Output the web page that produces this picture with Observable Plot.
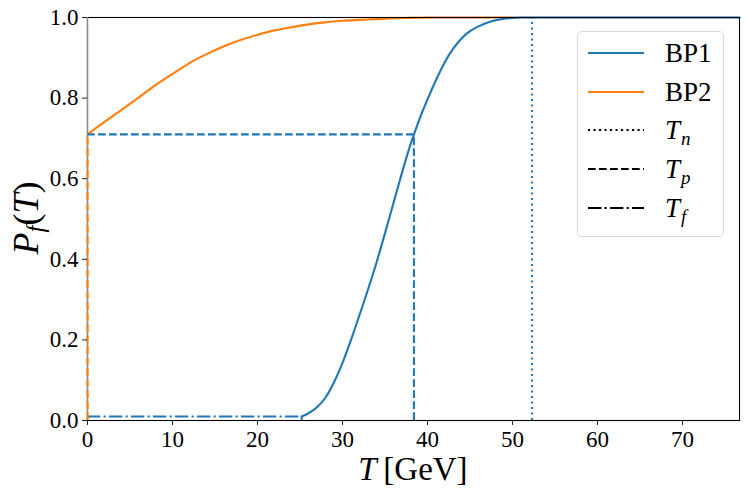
<!DOCTYPE html>
<html><head><meta charset="utf-8">
<script src="https://cdn.jsdelivr.net/npm/d3@7"></script>
<script src="https://cdn.jsdelivr.net/npm/@observablehq/plot@0.6"></script>
<style>
body{margin:0;background:#fff;}
#wrap{position:relative;width:747px;height:498px;}
#legend{position:absolute;left:577px;top:31px;width:147px;height:206px;border:1px solid #d9d9d9;border-radius:5px;background:rgba(255,255,255,0.85);box-sizing:border-box;color:#000;}
.row{position:absolute;left:9px;height:32px;display:flex;align-items:center;}
.row svg{width:58px;height:10px;margin-right:20px;}
</style>
</head><body>
<div id="wrap"><div id="chart"></div><div id="legend"></div></div>
<script>
// ---- data ----
const bp1T = [25.2,26,27,28,29,30,31,32,33,34,35,36,37,38,39,40,41,42,43,44,45,46,47,48,49,50,51,52,55,60,65,70,76.7];
const bp1P = [0.01,0.018,0.033,0.057,0.095,0.143,0.2,0.262,0.325,0.392,0.465,0.54,0.615,0.685,0.745,0.797,0.845,0.888,0.922,0.948,0.966,0.978,0.987,0.993,0.997,0.999,1,1,1,1,1,1,1];
const bp2T = [0,2,4,6,8,10,12,14,16,18,20,22,24,26,28,30,32,34,36,38,40,45,50];
const bp2P = [0.71,0.741,0.771,0.801,0.832,0.86,0.887,0.909,0.928,0.944,0.957,0.968,0.976,0.983,0.988,0.992,0.994,0.996,0.998,0.999,1,1,1];
const bp1Tn = 52.3, bp1Tp = 38.4, bp1Tf = 25.2;
const bp2Tn = 0, bp2Tp = 0, bp2Tf = 0;
const pAtTp = 0.71, pAtTf = 0.01;
const xTicks = [0,10,20,30,40,50,60,70];
const yTicks = [0,0.2,0.4,0.6,0.8,1.0];
const xMax = 76.7;
const seriesNames = ["BP1","BP2"];
const colors = ["#1f77b4","#ff7f0e"];

const bp1 = bp1T.map((t,i)=>({T:t,P:bp1P[i]}));
const bp2 = bp2T.map((t,i)=>({T:t,P:bp2P[i]}));

const LW = 2.1;
const DASH = "7.7,3.3", DOT = "2.1,3.4", DASHDOT = "13.3,3.3,2.1,3.3";
const font = "'Liberation Serif'";

const plot = Plot.plot({
  width: 747, height: 498,
  marginLeft: 87, marginRight: 8, marginTop: 17, marginBottom: 78,
  style: {fontSize: "23px", color: "#000", background: "#fff"},
  x: {domain: [0, xMax]},
  y: {domain: [0, 1]},
  marks: [
    Plot.line(bp2, {x: "T", y: "P", stroke: colors[1], strokeWidth: LW, curve: "monotone-x"}),
    Plot.line(bp1, {x: "T", y: "P", stroke: colors[0], strokeWidth: LW, curve: "monotone-x"}),
    // BP1 reference lines
    Plot.ruleX([bp1Tn], {y1: 0, y2: 1, stroke: colors[0], strokeWidth: LW, strokeDasharray: DOT}),
    Plot.ruleX([bp1Tp], {y1: 0, y2: pAtTp, stroke: colors[0], strokeWidth: LW, strokeDasharray: DASH}),
    Plot.ruleY([pAtTp], {x1: 0, x2: bp1Tp, stroke: colors[0], strokeWidth: LW, strokeDasharray: DASH}),
    Plot.ruleY([pAtTf], {x1: 0, x2: bp1Tf, stroke: colors[0], strokeWidth: LW, strokeDasharray: DASHDOT}),
    Plot.ruleX([bp1Tf], {y1: 0, y2: pAtTf, stroke: colors[0], strokeWidth: LW}),
    // frame
    Plot.frame({stroke: "#000", strokeWidth: 1.1}),
    Plot.ruleX([bp2Tn], {y1: 0, y2: 1, stroke: "#8a8a8a", strokeWidth: 1.4}),
    // BP2 reference line (Tp at T=0)
    Plot.ruleX([bp2Tp], {y1: 0, y2: pAtTp, stroke: colors[1], strokeWidth: LW, strokeDasharray: DASH}),
    Plot.axisX({ticks: xTicks, tickSize: 5, tickPadding: 5, tickFormat: d => String(d), label: null, stroke: "#222"}),
    Plot.axisY({ticks: yTicks, tickSize: 5, tickPadding: 4, tickFormat: d3.format(".1f"), label: null, stroke: "#222"})
  ]
});
document.getElementById("chart").appendChild(plot);

const svg = d3.select(plot);
svg.attr("font-family", "Liberation Serif");
svg.selectAll("g").attr("font-family", "Liberation Serif");
svg.selectAll("text").attr("font-family", "Liberation Serif").style("font-family", font).style("font-size", "23px");

// axis labels
const xl = svg.append("text").attr("x", 413).attr("y", 480).attr("text-anchor", "middle")
  .style("font-family", font).style("font-size", "33px").attr("fill", "#000");
xl.append("tspan").style("font-style", "italic").text("T");
xl.append("tspan").text("\u2009[GeV]");

const yl = svg.append("text").attr("transform", "translate(38,218) rotate(-90)").attr("text-anchor", "middle")
  .style("font-family", font).style("font-size", "36px").attr("fill", "#000");
yl.append("tspan").style("font-style", "italic").text("P");
yl.append("tspan").style("font-style", "italic").style("font-size", "25px").attr("dy", 6).text("f");
yl.append("tspan").attr("dy", -6).text("(");
yl.append("tspan").style("font-style", "italic").text("T");
yl.append("tspan").text(")");

// legend
const legendItems = [
  {main: seriesNames[0], sub: null, italic: false, color: colors[0], dash: null},
  {main: seriesNames[1], sub: null, italic: false, color: colors[1], dash: null},
  {main: "T", sub: "n", italic: true, color: "#000", dash: DOT},
  {main: "T", sub: "p", italic: true, color: "#000", dash: DASH},
  {main: "T", sub: "f", italic: true, color: "#000", dash: DASHDOT}
];
const legendTops = [5, 44, 82, 121, 160];
const lg = d3.select("#legend");
legendItems.forEach((it, i) => {
  const row = lg.append("div").attr("class", "row").style("top", legendTops[i] + "px");
  const s = row.append("svg").attr("viewBox", "0 0 58 10");
  s.append("line").attr("x1", 1).attr("y1", 5).attr("x2", 57).attr("y2", 5)
    .attr("stroke", it.color).attr("stroke-width", LW).attr("stroke-dasharray", it.dash);
  const sp = row.append("span").style("font-family", font).style("font-size", "27px")
    .style("font-style", it.italic ? "italic" : "normal").style("color", "#000");
  sp.append("span").style("font-family", font).text(it.main);
  if (it.sub) sp.append("span").style("font-family", font).style("font-size", "19px")
    .style("position", "relative").style("top", "6px").style("margin-left", "1px").text(it.sub);
});
</script>
</body></html>
